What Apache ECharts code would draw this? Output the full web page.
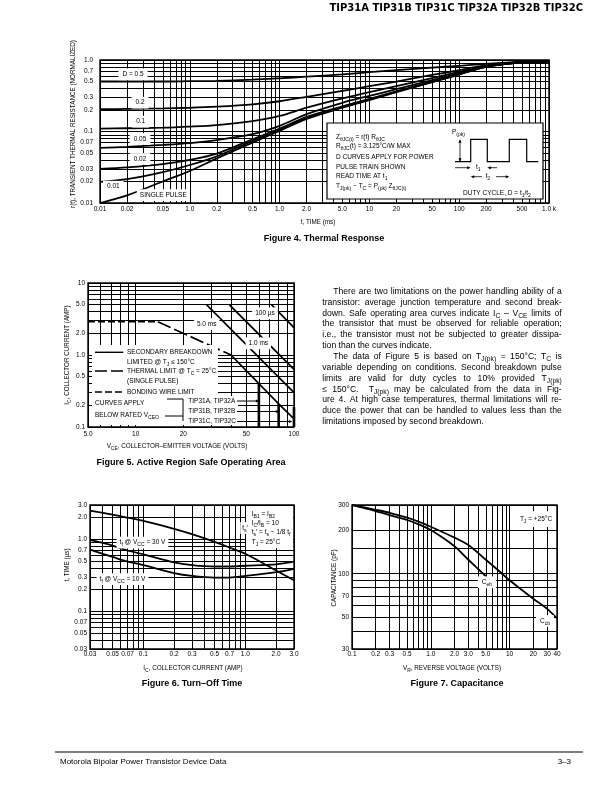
<!DOCTYPE html>
<html><head><meta charset="utf-8">
<script src="https://cdn.jsdelivr.net/npm/echarts@6/dist/echarts.min.js"></script>
<style>html,body{margin:0;padding:0;background:#fff;}#c{width:612px;height:792px;}</style>
</head><body><div id="c"></div>
<script>
// ---------- DATA ----------
// Figure 4: thermal response
const f4Time = [0.01,0.02,0.05,0.1,0.2,0.5,1,2,5,10,20,50,100,200,500,1000];
const f4D05  = [0.50,0.50,0.50,0.505,0.51,0.53,0.555,0.585,0.63,0.675,0.72,0.78,0.83,0.885,0.94,0.955];
const f4D02  = [0.205,0.207,0.21,0.215,0.223,0.24,0.265,0.305,0.37,0.43,0.50,0.62,0.72,0.85,0.935,0.955];
const f4D01  = [0.11,0.111,0.113,0.117,0.123,0.14,0.165,0.215,0.29,0.356,0.43,0.56,0.68,0.83,0.93,0.955];
const f4D005 = [0.059,0.061,0.065,0.069,0.076,0.092,0.12,0.175,0.252,0.315,0.39,0.525,0.654,0.817,0.93,0.955];
const f4D002 = [0.030,0.0315,0.035,0.040,0.049,0.078,0.11,0.16,0.225,0.285,0.365,0.50,0.635,0.81,0.93,0.955];
const f4D001 = [0.0198,0.0215,0.027,0.034,0.045,0.074,0.105,0.155,0.22,0.28,0.36,0.495,0.63,0.805,0.93,0.955];
const f4Single = [0.01,0.0128,0.02,0.028,0.042,0.07,0.102,0.15,0.215,0.275,0.355,0.49,0.625,0.80,0.93,0.955];
const f4XTicks = [0.01,0.02,0.05,0.1,0.2,0.5,1,2,5,10,20,50,100,200,500,1000];
const f4XLabels = ['0.01','0.02','0.05','1.0','0.2','0.5','1.0','2.0','5.0','10','20','50','100','200','500','1.0 k'];
const f4YTicks = [0.01,0.02,0.03,0.05,0.07,0.1,0.2,0.3,0.5,0.7,1];
const f4YLabels = ['0.01','0.02','0.03','0.05','0.07','0.1','0.2','0.3','0.5','0.7','1.0'];

// Figure 5: safe operating area
const f5BondV = [5, 13.8],  f5BondI = [2.9, 2.9];
const f5ThermV = [13.8, 40], f5ThermI = [2.9, 1.0];
const f5DcV = [40, 60, 80, 100], f5DcI = [1.0, 0.4, 0.21, 0.13];
const f5Us100V = [72, 100], f5Us100I = [5.0, 2.4];
const f5Ms1V = [39, 100], f5Ms1I = [5.0, 0.63];
const f5Ms5V = [28, 100], f5Ms5I = [5.0, 0.3];
const f5TipAV = [60, 60], f5TipAI = [0.4, 0.1];
const f5TipBV = [80, 80], f5TipBI = [0.21, 0.1];
const f5TipCV = [100, 100], f5TipCI = [0.19, 0.1];
const f5XTicks = [5,10,20,50,100], f5XLabels = ['5.0','10','20','50','100'];
const f5YTicks = [0.1,0.2,0.5,1,2,5,10], f5YLabels = ['0.1','0.2','0.5','1.0','2.0','5.0','10'];

// Figure 6: turn-off time
const f6Ic   = [0.03,0.05,0.07,0.1,0.2,0.3,0.5,0.7,1.0,2.0,3.0];
const f6Ts   = [2.5,2.2,2.0,1.8,1.4,1.18,0.92,0.77,0.63,0.37,0.27];
const f6Tf30 = [0.98,0.82,0.70,0.62,0.48,0.44,0.42,0.42,0.43,0.45,0.49];
const f6Tf10 = [0.72,0.57,0.49,0.44,0.34,0.31,0.295,0.295,0.31,0.35,0.39];
const f6Ticks = [0.03,0.05,0.07,0.1,0.2,0.3,0.5,0.7,1,2,3];
const f6Labels = ['0.03','0.05','0.07','0.1','0.2','0.3','0.5','0.7','1.0','2.0','3.0'];

// Figure 7: capacitance
const f7Vr  = [0.1,0.2,0.3,0.5,0.7,1,2,3,5,7,10,20,30,40];
const f7Ccb = [300,278,265,245,230,212,178,158,125,107,90,67,57,49];
const f7VrEb = [0.1,0.2,0.3,0.5,0.7,1,2,3,5];
const f7Ceb  = [300,272,255,236,220,201,155,125,96];
const f7XTicks = [0.1,0.2,0.3,0.5,1,2,3,5,10,20,30,40];
const f7XLabels = ['0.1','0.2','0.3','0.5','1.0','2.0','3.0','5.0','10','20','30','40'];
const f7YTicks = [30,50,70,100,200,300], f7YLabels = ['30','50','70','100','200','300'];
const f7YGrid = [30,40,50,60,70,80,90,100,150,200,300];

// ---------- HELPERS ----------
const FONT = '"Liberation Sans", Arial, Helvetica, sans-serif';
function decades(lo, hi) {
  const out = [];
  for (let e = -3; e <= 4; e++) for (let m = 1; m <= 9; m++) {
    const v = +(m * Math.pow(10, e)).toPrecision(6);
    if (v >= lo * 0.9999 && v <= hi * 1.0001) out.push(v);
  }
  return out;
}
function lab(v, vals, texts) {
  for (let i = 0; i < vals.length; i++) if (Math.abs(Math.log10(v / vals[i])) < 1e-6) return texts[i];
  return '';
}
function logAxis(gi, min, max, vals, texts, margin) {
  return {type:'log', logBase:10, gridIndex:gi, min, max,
    axisLine:{show:false}, axisTick:{show:false}, splitLine:{show:false},
    minorTick:{show:false}, minorSplitLine:{show:false},
    axisLabel:{customValues: vals, interval:0, hideOverlap:false, showMinLabel:true, showMaxLabel:true,
      margin, fontSize:6.5, fontFamily:FONT, color:'#000', formatter: v => lab(v, vals, texts)}};
}
function gridLines(gi, xs, ys) {
  return {type:'line', xAxisIndex:gi, yAxisIndex:gi, data:[], silent:true, animation:false, z:1,
    markLine:{silent:true, z:1, animation:false, symbol:['none','none'], label:{show:false},
      emphasis:{disabled:true}, lineStyle:{color:'#000', width:1, type:'solid'},
      data:[...xs.map(v => ({xAxis:v})), ...ys.map(v => ({yAxis:v}))]}};
}
function curve(gi, xs, ys, w, dash, smooth) {
  return {type:'line', xAxisIndex:gi, yAxisIndex:gi, data: xs.map((x,i) => [x, ys[i]]),
    symbol:'none', smooth: smooth === undefined ? 0.3 : smooth, z:3, silent:true, animation:false, clip:false,
    lineStyle:{color:'#000', width:w || 1.8, type: dash || 'solid', cap:'butt'}};
}
function rich(str) { return str.replace(/_\{([^}]*)\}/g, '{s|$1}'); }
function txt(x, y, str, o) {
  o = o || {};
  const fs = o.fs || 6.5;
  const el = {type:'text', x, y, z:o.z || 20, silent:true, rotation:o.rot || 0,
    style:{text:rich(str), fontSize:fs, fontFamily:o.ff || FONT, fontWeight:o.fw || 'normal', fill:'#000',
      align:o.align || 'left', verticalAlign:'middle', lineHeight: fs * 1.5,
      rich:{s:{fontSize:fs * 0.78, fontFamily:o.ff || FONT, fill:'#000', verticalAlign:'bottom', lineHeight:fs * 0.78}}}};
  if (o.bg) { el.style.backgroundColor = o.bg; el.style.padding = o.pad || [0, 2]; }
  return el;
}
function ln(x1, y1, x2, y2, w, dash) {
  return {type:'line', z:20, silent:true, shape:{x1, y1, x2, y2},
    style:{stroke:'#000', lineWidth:w || 1, lineDash:dash || null}};
}
function rect(x, y, w, h, stroke, z) {
  return {type:'rect', z:z || 4, silent:true, shape:{x, y, width:w, height:h},
    style:{fill:'#fff', stroke:stroke ? '#000' : null, lineWidth:stroke || 0}};
}
function head(x, y, dir, s) {
  s = s || 3;
  let pts;
  if (dir === 'r') pts = [[x, y], [x - s * 1.6, y - s * 0.7], [x - s * 1.6, y + s * 0.7]];
  if (dir === 'l') pts = [[x, y], [x + s * 1.6, y - s * 0.7], [x + s * 1.6, y + s * 0.7]];
  if (dir === 'u') pts = [[x, y], [x - s * 0.7, y + s * 1.6], [x + s * 0.7, y + s * 1.6]];
  if (dir === 'd') pts = [[x, y], [x - s * 0.7, y - s * 1.6], [x + s * 0.7, y - s * 1.6]];
  return {type:'polygon', z:21, silent:true, shape:{points:pts}, style:{fill:'#000'}};
}
const mctx = document.createElement('canvas').getContext('2d');
function wWidth(word, fs) {
  let w = 0;
  word.split(/(_\{[^}]*\})/).forEach(p => {
    if (!p) return;
    if (p.startsWith('_{')) { mctx.font = (fs * 0.78) + 'px ' + FONT; w += mctx.measureText(p.slice(2, -1)).width; }
    else { mctx.font = fs + 'px ' + FONT; w += mctx.measureText(p).width; }
  });
  return w;
}
function paraLine(x0, x1, y, line, justify, fs) {
  const words = line.split(' ');
  const widths = words.map(w => wWidth(w, fs));
  const total = widths.reduce((a, b) => a + b, 0);
  mctx.font = fs + 'px ' + FONT;
  const sp = mctx.measureText(' ').width;
  const gap = (justify && words.length > 1) ? (x1 - x0 - total) / (words.length - 1) : sp;
  const els = []; let x = x0;
  words.forEach((w, i) => { if (w) els.push(txt(x, y, w, {fs})); x += widths[i] + gap; });
  return els;
}

// ---------- LAYOUT ----------
const grids = [
  {left:100, top:60, width:449, height:143},
  {left:88, top:283, width:206, height:144},
  {left:90, top:505, width:204, height:144},
  {left:352, top:505, width:205, height:144}
].map(g => Object.assign(g, {show:true, borderColor:'#000', borderWidth:1.4, backgroundColor:'transparent', containLabel:false}));

const xAxes = [
  logAxis(0, 0.01, 1000, f4XTicks, f4XLabels, 3),
  logAxis(1, 5, 100, f5XTicks, f5XLabels, 4),
  logAxis(2, 0.03, 3, f6Ticks, f6Labels, 2),
  logAxis(3, 0.1, 40, f7XTicks, f7XLabels, 2)
];
const yAxes = [
  logAxis(0, 0.01, 1, f4YTicks, f4YLabels, 7),
  logAxis(1, 0.1, 10, f5YTicks, f5YLabels, 3),
  logAxis(2, 0.03, 3, f6Ticks, f6Labels, 3),
  logAxis(3, 30, 300, f7YTicks, f7YLabels, 3)
];

const series = [
  gridLines(0, decades(0.01, 1000), decades(0.01, 1)),
  curve(0, f4Time, f4D05), curve(0, f4Time, f4D02), curve(0, f4Time, f4D01),
  curve(0, f4Time, f4D005), curve(0, f4Time, f4D002), curve(0, f4Time, f4D001), curve(0, f4Time, f4Single),

  gridLines(1, decades(5, 100), decades(0.1, 10)),
  curve(1, f5BondV, f5BondI, 1.7, [7, 3], false),
  curve(1, f5ThermV, f5ThermI, 1.7, [14, 4], false),
  curve(1, f5DcV, f5DcI, 1.7, 'solid', false),
  curve(1, f5Us100V, f5Us100I, 1.7, 'solid', false),
  curve(1, f5Ms1V, f5Ms1I, 1.7, 'solid', false),
  curve(1, f5Ms5V, f5Ms5I, 1.7, 'solid', false),
  curve(1, f5TipAV, f5TipAI, 2.6, 'solid', false),
  curve(1, f5TipBV, f5TipBI, 2.6, 'solid', false),
  curve(1, f5TipCV, f5TipCI, 2.6, 'solid', false),

  gridLines(2, decades(0.03, 3), decades(0.03, 3)),
  curve(2, f6Ic, f6Ts, 1.8), curve(2, f6Ic, f6Tf30, 1.8), curve(2, f6Ic, f6Tf10, 1.8),

  gridLines(3, decades(0.1, 40), f7YGrid),
  curve(3, f7Vr, f7Ccb, 1.8), curve(3, f7VrEb, f7Ceb, 1.8)
];

// ---------- GRAPHIC (text, annotations) ----------
const G = [];
// header & footer
G.push(txt(583, 8, 'TIP31A TIP31B TIP31C TIP32A TIP32B TIP32C', {fs:10, fw:'bold', ff:'"DejaVu Sans", sans-serif', align:'right'}));
G.push(ln(55, 752, 583, 752, 1));
G.push(txt(60, 762, 'Motorola Bipolar Power Transistor Device Data', {fs:8}));
G.push(txt(571, 762, '3–3', {fs:8, align:'right'}));

// Figure 4 texts
G.push(txt(73, 124, 'r(t), TRANSIENT THERMAL RESISTANCE (NORMALIZED)', {rot:Math.PI / 2, align:'center', fs:6.3}));
G.push(txt(318, 222, 't, TIME (ms)', {align:'center', fs:6.3}));
G.push(txt(324, 239, 'Figure 4. Thermal Response', {fs:9, fw:'bold', align:'center'}));
G.push(txt(133, 74.3, 'D = 0.5', {align:'center', bg:'#fff', pad:[1, 4]}));
G.push(txt(140, 102.7, '0.2', {align:'center', bg:'#fff', pad:[1, 4]}));
G.push(txt(140.7, 121.7, '0.1', {align:'center', bg:'#fff', pad:[1, 4]}));
G.push(txt(140, 139, '0.05', {align:'center', bg:'#fff', pad:[1, 4]}));
G.push(txt(140, 159, '0.02', {align:'center', bg:'#fff', pad:[1, 4]}));
G.push(txt(113.3, 186.7, '0.01', {align:'center', bg:'#fff', pad:[1, 4]}));
G.push(txt(163.3, 195, 'SINGLE PULSE', {align:'center', bg:'#fff', pad:[1, 3]}));
// inset
G.push(rect(327, 123, 216, 76, 1.2, 5));
G.push(txt(336, 137.3, 'Z_{θJC(t)} = r(t) R_{θJC}'));
G.push(txt(336, 146.7, 'R_{θJC}(t) = 3.125°C/W MAX'));
G.push(txt(336, 157.3, 'D CURVES APPLY FOR POWER'));
G.push(txt(336, 167, 'PULSE TRAIN SHOWN'));
G.push(txt(336, 176.5, 'READ TIME AT t_{1}'));
G.push(txt(336, 186.5, 'T_{J(pk)} − T_{C} = P_{(pk)} Z_{θJC(t)}'));
G.push(txt(452, 132, 'P_{(pk)}'));
G.push(txt(463, 193.3, 'DUTY CYCLE, D = t_{1}/t_{2}'));
G.push({type:'polyline', z:20, silent:true, shape:{points:[[455,161.7],[470.7,161.7],[470.7,139.3],[487.3,139.3],[487.3,161.7],[509.3,161.7],[509.3,139.3],[526.7,139.3],[526.7,161.7],[538.3,161.7]]}, style:{stroke:'#000', lineWidth:1.2, fill:null}});
G.push(ln(460, 140, 460, 161, 0.8), head(460, 139.3, 'u', 2.2), head(460, 161.7, 'd', 2.2));
G.push(ln(455, 167.7, 469, 167.7, 0.8), head(470.7, 167.7, 'r', 2.2));
G.push(ln(489, 167.7, 497, 167.7, 0.8), head(487.3, 167.7, 'l', 2.2));
G.push(txt(476, 167.7, 't_{1}'));
G.push(ln(472, 176.7, 482, 176.7, 0.8), head(470.7, 176.7, 'l', 2.2));
G.push(ln(496, 176.7, 508, 176.7, 0.8), head(509.3, 176.7, 'r', 2.2));
G.push(txt(485.5, 176.7, 't_{2}'));

// Figure 5 texts
G.push(txt(67, 355, 'I_{C}, COLLECTOR CURRENT (AMP)', {rot:Math.PI / 2, align:'center', fs:6.3}));
G.push(txt(177, 446, 'V_{CE}, COLLECTOR–EMITTER VOLTAGE (VOLTS)', {align:'center', fs:6.3}));
G.push(txt(191, 463, 'Figure 5. Active Region Safe Operating Area', {fs:9, fw:'bold', align:'center'}));
G.push(rect(92, 345, 126, 52, 0, 4));
G.push(rect(92, 396, 146, 29, 0, 4));
G.push(ln(95, 352.3, 123.3, 352.3, 1.4));
G.push(ln(95, 371, 123.3, 371, 1.4, [12, 4]));
G.push(ln(95, 392, 123.3, 392, 1.4, [7, 3]));
G.push(txt(127, 352.3, 'SECONDARY BREAKDOWN'));
G.push(txt(127, 362.7, 'LIMITED @ T_{J} ≤ 150°C'));
G.push(txt(127, 371.5, 'THERMAL LIMIT @ T_{C} = 25°C'));
G.push(txt(127, 381, '(SINGLE PULSE)'));
G.push(txt(127, 392, 'BONDING WIRE LIMIT'));
G.push(txt(95, 403, 'CURVES APPLY'));
G.push(txt(95, 415, 'BELOW RATED V_{CEO}'));
G.push(ln(167, 399, 183, 399, 1), ln(165, 416, 183, 416, 1), ln(183, 399, 183, 421, 1));
G.push(txt(188.3, 401, 'TIP31A, TIP32A'));
G.push(txt(188.3, 411.5, 'TIP31B, TIP32B'));
G.push(txt(188.3, 421.5, 'TIP31C, TIP32C'));
G.push(ln(237, 401, 256, 401, 1), head(259.5, 401, 'r', 2.3));
G.push(ln(237, 411.5, 276, 411.5, 1), head(279.5, 411.5, 'r', 2.3));
G.push(ln(237, 421.5, 289, 421.5, 1), head(292.5, 421.5, 'r', 2.3));
G.push(txt(265, 313.3, '100 µs', {align:'center', bg:'#fff', pad:[1, 3]}));
G.push(txt(206.7, 324, '5.0 ms', {align:'center', bg:'#fff', pad:[1, 3]}));
G.push(txt(258.3, 343.3, '1.0 ms', {align:'center', bg:'#fff', pad:[1, 3]}));

// Figure 6 texts
G.push(txt(67, 565, 't, TIME (µs)', {rot:Math.PI / 2, align:'center', fs:6.3}));
G.push(txt(193, 668, 'I_{C}, COLLECTOR CURRENT (AMP)', {align:'center', fs:6.3}));
G.push(txt(192, 684, 'Figure 6. Turn–Off Time', {fs:9, fw:'bold', align:'center'}));
G.push(rect(246, 506, 47, 42, 0, 4));
G.push(txt(251.7, 514, 'I_{B1} = I_{B2}'));
G.push(txt(251.7, 523, 'I_{C}/I_{B} = 10'));
G.push(txt(251.7, 532.5, 't_{s}′ = t_{s} − 1/8 t_{f}'));
G.push(txt(251.7, 542, 'T_{J} = 25°C'));
G.push(txt(245, 528, 't_{s}′', {align:'center', bg:'#fff', pad:[1, 2]}));
G.push(txt(142.5, 542.7, 't_{f} @ V_{CC} = 30 V', {align:'center', bg:'#fff', pad:[1, 3]}));
G.push(txt(122.5, 579, 't_{f} @ V_{CC} = 10 V', {align:'center', bg:'#fff', pad:[1, 3]}));

// Figure 7 texts
G.push(txt(334, 578, 'CAPACITANCE (pF)', {rot:Math.PI / 2, align:'center', fs:6.3}));
G.push(txt(452, 668, 'V_{R}, REVERSE VOLTAGE (VOLTS)', {align:'center', fs:6.3}));
G.push(txt(457, 684, 'Figure 7. Capacitance', {fs:9, fw:'bold', align:'center'}));
G.push(txt(536, 519, 'T_{J} = +25°C', {align:'center', bg:'#fff', pad:[3, 3]}));
G.push(txt(487, 582.3, 'C_{eb}', {align:'center', bg:'#fff', pad:[1, 4]}));
G.push(txt(545, 621, 'C_{cb}', {align:'center', bg:'#fff', pad:[1, 4]}));

// Paragraph
const paraLines = [
  ['There are two limitations on the power handling ability of a', true, true],
  ['transistor: average junction temperature and second break-', false, true],
  ['down. Safe operating area curves indicate I_{C} – V_{CE} limits of', false, true],
  ['the transistor that must be observed for reliable operation;', false, true],
  ['i.e., the transistor must not be subjected to greater dissipa-', false, true],
  ['tion than the curves indicate.', false, false],
  ['The data of Figure 5 is based on T_{J(pk)} = 150°C; T_{C} is', true, true],
  ['variable depending on conditions. Second breakdown pulse', false, true],
  ['limits are valid for duty cycles to 10% provided T_{J(pk)}', false, true],
  ['≤ 150°C.  T_{J(pk)} may be calculated from the data in Fig-', false, true],
  ['ure 4. At high case temperatures, thermal limitations will re-', false, true],
  ['duce the power that can be handled to values less than the', false, true],
  ['limitations imposed by second breakdown.', false, false]
];
paraLines.forEach((p, i) => {
  const y = 291.5 + i * 10.85;
  paraLine(p[1] ? 333.3 : 322.3, 561.7, y, p[0], p[2], 8.6).forEach(e => G.push(e));
});

const chart = echarts.init(document.getElementById('c'), null, {renderer:'canvas'});
chart.setOption({
  animation:false,
  backgroundColor:'#fff',
  grid: grids,
  xAxis: xAxes,
  yAxis: yAxes,
  series: series,
  graphic: {elements: G}
});
</script>
</body></html>
